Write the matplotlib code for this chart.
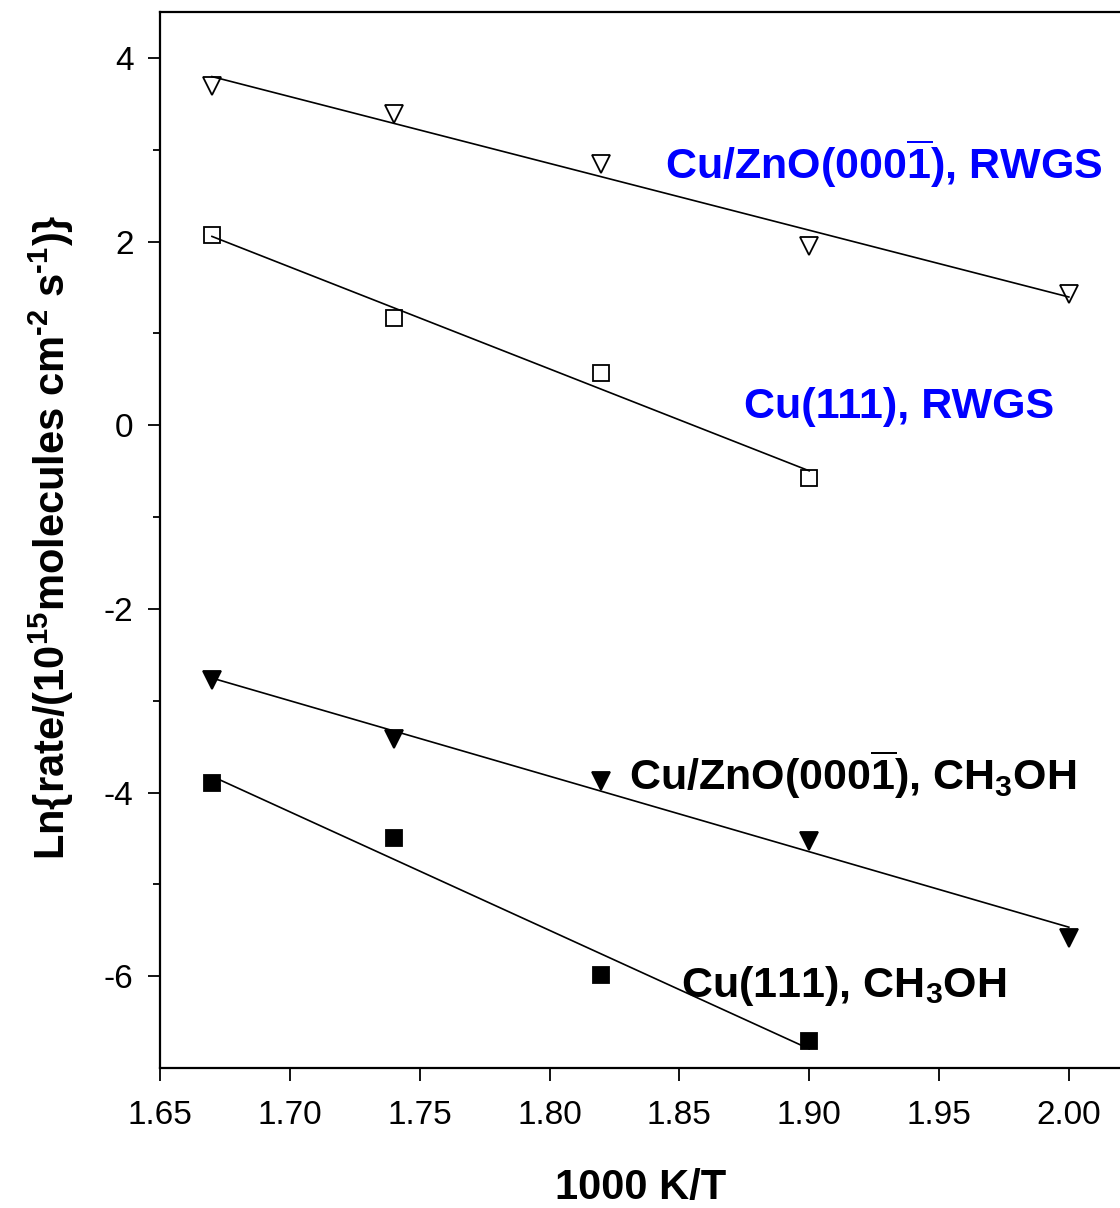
import numpy as np
import matplotlib
matplotlib.use("Agg")
import matplotlib.pyplot as plt

plt.rcParams['font.family'] = ['Liberation Sans', 'DejaVu Sans']
plt.rcParams['mathtext.fontset'] = 'custom'
plt.rcParams['mathtext.rm'] = 'Liberation Sans:bold'
plt.rcParams['mathtext.bf'] = 'Liberation Sans:bold'
plt.rcParams['mathtext.it'] = 'Liberation Sans:bold'
plt.rcParams['mathtext.default'] = 'bf'
plt.rcParams['axes.unicode_minus'] = False

x_zno_rwgs = [1.67, 1.74, 1.82, 1.90, 2.00]
y_zno_rwgs = [3.69, 3.39, 2.85, 1.95, 1.43]

x_cu_rwgs = [1.67, 1.74, 1.82, 1.90]
y_cu_rwgs = [2.07, 1.17, 0.57, -0.58]

x_zno_meoh = [1.67, 1.74, 1.82, 1.90, 2.00]
y_zno_meoh = [-2.78, -3.42, -3.87, -4.53, -5.58]

x_cu_meoh = [1.67, 1.74, 1.82, 1.90]
y_cu_meoh = [-3.90, -4.50, -5.99, -6.71]

xticks = [1.65, 1.70, 1.75, 1.80, 1.85, 1.90, 1.95, 2.00]
yticks = [4, 2, 0, -2, -4, -6]

fig = plt.figure(figsize=(11.2, 12.08), dpi=100)
ax = fig.add_axes([160/1120, 1 - 1068/1208, 1 - 160/1120, (1068 - 12)/1208])

serien = [
    (x_zno_rwgs, y_zno_rwgs, 'v', 'none', 13),
    (x_cu_rwgs, y_cu_rwgs, 's', 'none', 11.5),
    (x_zno_meoh, y_zno_meoh, 'v', 'black', 13),
    (x_cu_meoh, y_cu_meoh, 's', 'black', 11.5),
]

for xs, ys, m, fc, ms in serien:
    xs = np.array(xs)
    ys = np.array(ys)
    k, d = np.polyfit(xs, ys, 1)
    xl = np.array([xs.min(), xs.max()])
    ax.plot(xl, k * xl + d, color='black', lw=1.2, zorder=2)
    ax.plot(xs, ys, linestyle='none', marker=m, ms=ms, mfc=fc, mec='black',
            mew=1.3, zorder=3, clip_on=False)

ax.text(1.8443, 2.68, r"Cu/ZnO(000$\overline{1}$), RWGS", color='#0000ff',
        fontsize=31, fontweight='bold', va='baseline')
ax.text(1.875, 0.08, "Cu(111), RWGS", color='#0000ff',
        fontsize=31, fontweight='bold', va='baseline')
ax.text(1.8308, -3.97, r"Cu/ZnO(000$\overline{1}$), CH$_3$OH", color='black',
        fontsize=31, fontweight='bold', va='baseline')
ax.text(1.8508, -6.23, r"Cu(111), CH$_3$OH", color='black',
        fontsize=31, fontweight='bold', va='baseline')

ax.set_xlim(1.65, 1.65 + 959 / 2594.0)
ax.set_ylim(-7, 4.5)
ax.set_xticks(xticks)
ax.set_xticklabels([f"{v:.2f}" for v in xticks])
ax.set_yticks(yticks)
ax.set_yticklabels([str(v) for v in yticks])
ax.set_yticks([3, 1, -1, -3, -5], minor=True)

ax.spines['right'].set_visible(False)
for s in ['left', 'bottom', 'top']:
    ax.spines[s].set_linewidth(1.6)

ax.tick_params(axis='both', which='major', direction='out', length=9, width=1.3,
               labelsize=24)
ax.tick_params(axis='y', which='minor', direction='out', length=5, width=1.3)
ax.tick_params(axis='x', which='major', pad=14)
ax.tick_params(axis='y', which='major', pad=10)

ax.set_xlabel("1000 K/T", fontsize=30, fontweight='bold')
ax.xaxis.set_label_coords(0.501, -0.095)
ax.set_ylabel(r"Ln{rate/(10$^{15}$molecules cm$^{\text{-}2}$ s$^{\text{-}1}$)}",
              fontsize=30, fontweight='bold')
ax.yaxis.set_label_coords(-0.088, 0.503)

fig.savefig("out.png", dpi=100)
